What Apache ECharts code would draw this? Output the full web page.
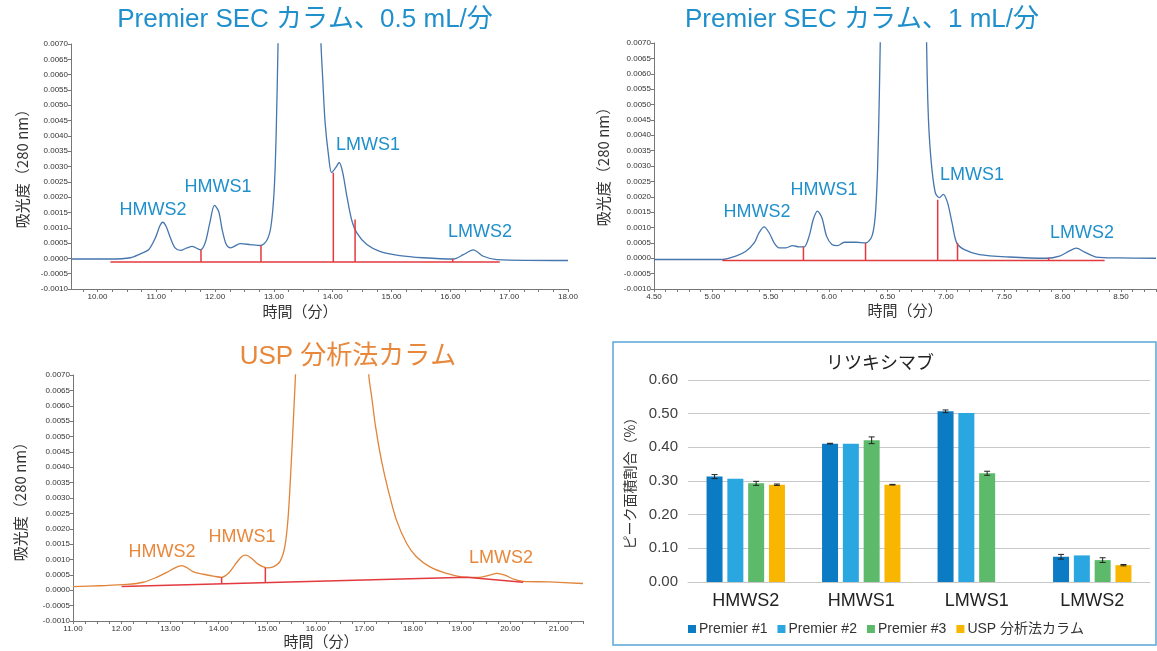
<!DOCTYPE html>
<html><head><meta charset="utf-8">
<script src="https://cdn.jsdelivr.net/npm/echarts@6/dist/echarts.min.js"></script>
<style>html,body{margin:0;padding:0;background:#fff}#c{width:1157px;height:651px}</style>
</head><body><div id="c"></div>
<script>
// ---------- Chromatogram: Premier SEC 0.5 mL/min ----------
const sec05Time = [9.56,10.22,10.56,10.73,10.87,10.985,11.058,11.109,11.166,11.24,11.32,11.41,11.52,11.61,11.75,11.83,11.91,11.99,12.06,12.12,12.19,12.26,12.43,12.60,12.77,12.88,12.95,13.005,13.04,13.07,13.15,13.4,13.65,13.80,13.83,13.87,13.93,13.98,14.05,14.11,14.17,14.24,14.32,14.41,14.58,14.80,15.14,15.54,16.05,16.22,16.39,16.56,16.79,18.0];
const sec05Abs = [-0.00002,-0.00002,0.00002,0.00015,0.00028,0.00067,0.00105,0.00118,0.00105,0.00067,0.00034,0.00026,0.00034,0.00039,0.00028,0.0005,0.00116,0.00173,0.00154,0.00094,0.00045,0.00034,0.00048,0.00045,0.00042,0.00059,0.00105,0.00225,0.0042,0.0070,0.015,0.03,0.015,0.0070,0.00586,0.00444,0.00334,0.0028,0.00296,0.00313,0.0028,0.00203,0.00127,0.00083,0.00045,0.00023,0.00009,0.00002,-0.00002,0.00012,0.00028,0.00007,-0.00004,-0.00007];
const sec05Base = [[10.22,-0.00012],[16.84,-0.00012]];
const sec05Cuts = [[11.76,-0.00012,0.00028],[12.78,-0.00012,0.00042],[14.01,-0.00012,0.0028],[14.38,-0.00012,0.00127],[16.04,-0.00012,-0.00002]];
const sec05Ticks = [10,11,12,13,14,15,16,17,18];

// ---------- Chromatogram: Premier SEC 1 mL/min ----------
const sec1Time = [4.50,5.086,5.20,5.287,5.358,5.40,5.443,5.486,5.529,5.572,5.63,5.686,5.744,5.786,5.829,5.864,5.90,5.938,5.978,6.024,6.072,6.13,6.23,6.315,6.367,6.395,6.415,6.43,6.438,6.48,6.64,6.80,6.835,6.844,6.858,6.881,6.91,6.944,6.978,7.015,7.053,7.093,7.159,7.287,7.545,7.86,7.973,8.059,8.117,8.188,8.288,8.488,8.80];
const sec1Abs = [-0.00004,-0.00004,0.00007,0.00023,0.0005,0.00083,0.00102,0.00083,0.0005,0.00034,0.00034,0.00041,0.00037,0.00037,0.00072,0.00126,0.00153,0.00132,0.00072,0.00045,0.00041,0.00052,0.00052,0.0005,0.00072,0.00137,0.00289,0.00528,0.0070,0.015,0.03,0.015,0.0070,0.00528,0.00398,0.00289,0.00213,0.00197,0.00208,0.0018,0.00115,0.0005,0.00028,0.00012,0.00004,0.0,0.00007,0.00024,0.00033,0.0002,0.00004,0.00001,0.0];
const sec1Base = [[5.086,-0.00007],[8.36,-0.00007]];
const sec1Cuts = [[5.78,-0.00007,0.00037],[6.312,-0.00007,0.0005],[6.93,-0.00007,0.0019],[7.10,-0.00007,0.0005],[7.88,-0.00007,0.00002]];
const sec1Ticks = [4.5,5.0,5.5,6.0,6.5,7.0,7.5,8.0,8.5];

// ---------- Chromatogram: USP column ----------
const uspTime = [11.0,11.56,12.10,12.45,12.72,12.93,13.10,13.24,13.34,13.48,13.68,13.89,14.06,14.20,14.33,14.47,14.56,14.68,14.81,14.99,15.12,15.26,15.36,15.43,15.50,15.55,15.58,15.7,16.3,16.95,17.09,17.15,17.23,17.35,17.49,17.66,17.87,18.07,18.35,18.69,19.10,19.37,19.58,19.73,19.89,20.09,20.27,20.81,21.5];
const uspAbs = [0.000115,0.000147,0.00019,0.00026,0.00042,0.00058,0.00073,0.0008,0.00074,0.0006,0.00052,0.00046,0.00042,0.00055,0.00082,0.00109,0.00114,0.00103,0.00085,0.00073,0.00076,0.00093,0.00141,0.00239,0.00434,0.00596,0.0070,0.012,0.03,0.012,0.0070,0.00628,0.00531,0.00422,0.00325,0.00228,0.00152,0.00109,0.00076,0.00055,0.00042,0.00042,0.00049,0.00055,0.00049,0.00035,0.00029,0.00027,0.00022];
const uspBase = [[12.0,0.00012],[19.1,0.00042],[20.27,0.00026]];
const uspCuts = [[14.06,0.00021,0.00042],[14.96,0.00025,0.00073]];
const uspTicks = [11,12,13,14,15,16,17,18,19,20,21];

// ---------- Bar chart: Rituximab ----------
const barCategories = ['HMWS2','HMWS1','LMWS1','LMWS2'];
const barSeriesNames = ['Premier #1','Premier #2','Premier #3','USP 分析法カラム'];
const premier1 = [0.313,0.411,0.507,0.075];
const premier2 = [0.307,0.411,0.502,0.079];
const premier3 = [0.293,0.421,0.323,0.065];
const uspBar   = [0.289,0.289,null,0.050];
const premier1Err = [0.006,0.001,0.004,0.007];
const premier2Err = [null,null,null,null];
const premier3Err = [0.006,0.010,0.006,0.007];
const uspBarErr   = [0.002,0.001,null,0.002];

// ---------- styles ----------
const FONT = 'Arial, "Liberation Sans", "Noto Sans CJK JP", sans-serif';
const JFONT = '"Noto Sans CJK JP", Arial, sans-serif';
const BLUE_T = '#1f90cc';
const ORANGE_T = '#e8883c';
const LINE_BLUE = '#4576ad';
const LINE_OR = '#e0843a';
const RED = '#e23a3f';

const chart = echarts.init(document.getElementById('c'));

function zipXY(xs, ys){ return xs.map((x,i)=>[x, ys[i]]); }
function stepList(a, b, s){ const r=[]; for(let v=a; v<=b+1e-9; v+=s) r.push(+v.toFixed(3)); return r; }

function chromX(idx, min, max, labels, tickStep){
  return {
    type:'value', gridIndex: idx, min, max,
    axisLine:{onZero:false, lineStyle:{color:'#777', width:1}},
    axisTick:{show:true, length:3, lineStyle:{color:'#777'}, customValues: stepList(Math.ceil(min/tickStep)*tickStep, max, tickStep)},
    axisLabel:{customValues: labels, formatter: v=>v.toFixed(2), fontSize:8, color:'#333', fontFamily:FONT, margin:4},
    splitLine:{show:false}
  };
}
function chromY(idx){
  return {
    type:'value', gridIndex: idx, min:-0.001, max:0.007, interval:0.0005,
    axisLine:{show:true, lineStyle:{color:'#777', width:1}},
    axisTick:{show:true, length:3, lineStyle:{color:'#777'}},
    axisLabel:{formatter: v=>v.toFixed(4), fontSize:8, color:'#333', fontFamily:FONT, margin:3},
    splitLine:{show:false}
  };
}

const series = [];
function addChrom(idx, t, a, color){
  series.push({type:'line', xAxisIndex:idx, yAxisIndex:idx, data: zipXY(t,a), symbol:'none', smooth:0.3, clip:true,
    lineStyle:{color, width:1.3}, silent:true, z:3});
}
function addRed(idx, base, cuts){
  series.push({type:'line', xAxisIndex:idx, yAxisIndex:idx, data: base, symbol:'none', clip:true,
    lineStyle:{color:RED, width:1.5}, silent:true, z:4});
  cuts.forEach(c=>{
    series.push({type:'line', xAxisIndex:idx, yAxisIndex:idx, data: [[c[0],c[1]],[c[0],c[2]]], symbol:'none', clip:true,
      lineStyle:{color:RED, width:1.5}, silent:true, z:4});
  });
}
addChrom(0, sec05Time, sec05Abs, LINE_BLUE); addRed(0, sec05Base, sec05Cuts);
addChrom(1, sec1Time, sec1Abs, LINE_BLUE); addRed(1, sec1Base, sec1Cuts);
addChrom(2, uspTime, uspAbs, LINE_OR); addRed(2, uspBase, uspCuts);

// bars
const barColors = ['#0b7cc3','#2aa7e1','#5dba6b','#f8b600'];
const barVals = [premier1, premier2, premier3, uspBar];
const barErrs = [premier1Err, premier2Err, premier3Err, uspBarErr];
const BAR_W = 16, BAR_GAP = 0.3;
barVals.forEach((vals,k)=>{
  series.push({type:'bar', name: barSeriesNames[k], xAxisIndex:3, yAxisIndex:3, data: vals,
    barWidth: BAR_W, barGap: (BAR_GAP*100)+'%', itemStyle:{color: barColors[k]}, silent:true, z:2});
});
const slot = BAR_W*(1+BAR_GAP);
const total = 4*BAR_W + 3*BAR_W*BAR_GAP;
barErrs.forEach((errs,k)=>{
  const off = -total/2 + BAR_W/2 + k*slot;
  const data = errs.map((e,i)=> (e==null || barVals[k][i]==null) ? null : [i, barVals[k][i], e]).filter(d=>d);
  series.push({type:'custom', xAxisIndex:3, yAxisIndex:3, silent:true, z:5,
    data,
    renderItem:(params, api)=>{
      const i = api.value(0), v = api.value(1), e = api.value(2);
      const top = api.coord([i, v+e]), bot = api.coord([i, v-e]);
      const x = top[0] + off;
      const st = {stroke:'#222', lineWidth:1};
      return {type:'group', children:[
        {type:'line', shape:{x1:x, y1:top[1], x2:x, y2:bot[1]}, style:st},
        {type:'line', shape:{x1:x-3, y1:top[1], x2:x+3, y2:top[1]}, style:st},
        {type:'line', shape:{x1:x-3, y1:bot[1], x2:x+3, y2:bot[1]}, style:st}
      ]};
    }
  });
});

function txt(x, y, text, color, size, rot, font){
  return {type:'text', x, y, rotation: rot||0, silent:true,
    style:{text, fill:color, fontSize:size, fontFamily: font||FONT, align:'center', verticalAlign:'middle'}};
}

const option = {
  animation:false,
  backgroundColor:'#fff',
  grid:[
    {left:71, top:44, width:497, height:245},
    {left:654, top:43, width:502, height:246},
    {left:73, top:375, width:510, height:246},
    {left:688, top:380, width:462, height:202}
  ],
  xAxis:[
    chromX(0, 9.55, 18, sec05Ticks, 0.25),
    chromX(1, 4.5, 8.8, sec1Ticks, 0.1),
    chromX(2, 11, 21.5, uspTicks, 0.25),
    {type:'category', gridIndex:3, data: barCategories,
      axisLine:{lineStyle:{color:'#c8c8c8'}}, axisTick:{show:false},
      axisLabel:{fontSize:18, color:'#222', fontFamily:FONT, margin:10}}
  ],
  yAxis:[
    chromY(0), chromY(1), chromY(2),
    {type:'value', gridIndex:3, min:0, max:0.6, interval:0.1,
      axisLine:{show:false}, axisTick:{show:false},
      axisLabel:{formatter:v=>v.toFixed(2), fontSize:15, color:'#404040', fontFamily:FONT, margin:10},
      splitLine:{lineStyle:{color:'#c8c8c8'}}}
  ],
  legend:{data: barSeriesNames, left:683, top:617, icon:'rect', itemWidth:8, itemHeight:8, itemGap:10,
    textStyle:{fontSize:14, color:'#333', fontFamily:FONT, padding:[0,0,0,-2]}, selectedMode:false},
  graphic:[
    {type:'rect', shape:{x:613, y:342, width:543, height:303}, style:{fill:'none', stroke:'#5aa6d6', lineWidth:1.5}, silent:true},
    txt(305, 20, 'Premier SEC カラム、0.5 mL/分', BLUE_T, 26),
    txt(862, 20, 'Premier SEC カラム、1 mL/分', BLUE_T, 26),
    txt(348, 357, 'USP 分析法カラム', ORANGE_T, 26),
    txt(880, 362, 'リツキシマブ', '#222', 18, 0, JFONT),
    // peak labels
    txt(153, 210, 'HMWS2', BLUE_T, 18), txt(218, 187, 'HMWS1', BLUE_T, 18),
    txt(368, 145, 'LMWS1', BLUE_T, 18), txt(480, 232, 'LMWS2', BLUE_T, 18),
    txt(757, 212, 'HMWS2', BLUE_T, 18), txt(824, 190, 'HMWS1', BLUE_T, 18),
    txt(972, 175, 'LMWS1', BLUE_T, 18), txt(1082, 233, 'LMWS2', BLUE_T, 18),
    txt(162, 552, 'HMWS2', ORANGE_T, 18), txt(242, 537, 'HMWS1', ORANGE_T, 18),
    txt(501, 558, 'LMWS2', ORANGE_T, 18),
    // axis names
    txt(22, 165, '吸光度（280 nm）', '#333', 15, Math.PI/2, JFONT),
    txt(603, 163, '吸光度（280 nm）', '#333', 15, Math.PI/2, JFONT),
    txt(20, 498, '吸光度（280 nm）', '#333', 15, Math.PI/2, JFONT),
    txt(300, 311, '時間（分）', '#333', 15, 0, JFONT),
    txt(905, 310, '時間（分）', '#333', 15, 0, JFONT),
    txt(321, 641, '時間（分）', '#333', 15, 0, JFONT),
    txt(630, 480, 'ピーク面積割合（%）', '#333', 14, Math.PI/2, JFONT)
  ],
  series
};
chart.setOption(option);
</script></body></html>
